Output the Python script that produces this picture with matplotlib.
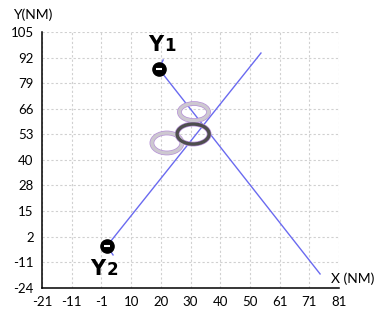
import numpy as np
import matplotlib.pyplot as plt
from matplotlib.patches import Ellipse

# tracks (NM)
track1_x = [19.2, 74.5]
track1_y = [86.3, -17.1]
track2_x = [1.3, 54.2]
track2_y = [-3.0, 94.4]

# short heading ticks at the start points
tail1_x = [19.2, 20.6]
tail1_y = [86.3, 90.9]
tail2_x = [1.3, 3.4]
tail2_y = [-3.0, -7.5]

# ship positions
ship_x = [19.2, 1.3]
ship_y = [86.3, -3.0]
ship_letter = ["Υ", "Υ"]
ship_index = ["1", "2"]
name_x = [18.2, -1.7]
name_y = [98.4, -14.6]

# range rings: x, y, w, h
ring_x = [31.2, 21.9, 30.9]
ring_y = [64.6, 49.0, 53.5]
ring_w = [10.0, 10.3, 11.0]
ring_h = [8.6, 10.1, 10.1]
ring_col = ['#cdc8d0', '#cdc8d0', '#4e4e4e']

x_ticks = np.linspace(-21, 81, 11)
x_labels = ['-21', '-11', '-1', '10', '20', '30', '40', '50', '61', '71', '81']
y_ticks = np.linspace(-24, 105, 11)
y_labels = ['-24', '-11', '2', '15', '28', '40', '53', '66', '79', '92', '105']

plt.rcParams['font.family'] = ['Lato', 'DejaVu Sans']

fig = plt.figure(figsize=(3.75, 3.14), dpi=100)
ax = fig.add_axes([0.112, 0.084, 0.792, 0.814])

line_col = '#6a6af0'
ax.plot(track1_x, track1_y, color=line_col, lw=1.0, zorder=2)
ax.plot(track2_x, track2_y, color=line_col, lw=1.0, zorder=2)
ax.plot(tail1_x, tail1_y, color=line_col, lw=1.0, zorder=2)
ax.plot(tail2_x, tail2_y, color=line_col, lw=1.0, zorder=2)

for i in range(len(ring_x)):
    # purple halo under the grey ring
    ax.add_patch(Ellipse((ring_x[i], ring_y[i]), ring_w[i], ring_h[i],
                         fill=False, edgecolor='#b690d8', lw=3.4, zorder=3))
    ax.add_patch(Ellipse((ring_x[i], ring_y[i]), ring_w[i], ring_h[i],
                         fill=False, edgecolor=ring_col[i], lw=2.4, zorder=4))

ax.plot(ship_x, ship_y, 'o', color='black', ms=9.5, zorder=5)
ax.plot(ship_x, ship_y, '_', color='white', ms=5, mew=1.5, zorder=6)

for i in range(len(ship_letter)):
    t = ax.text(name_x[i], name_y[i], ship_letter[i], fontsize=15, fontweight='bold',
                family=['DejaVu Sans'], ha='center', va='center', color='black')
    ax.annotate(ship_index[i], xy=(1, 0), xycoords=t, xytext=(0.5, 0),
                textcoords='offset points', fontsize=12, fontweight='bold',
                family=['DejaVu Sans'], ha='left', va='bottom', color='black')

ax.set_xlim(-21, 81)
ax.set_ylim(-24, 105)
ax.set_xticks(x_ticks)
ax.set_xticklabels(x_labels)
ax.set_yticks(y_ticks)
ax.set_yticklabels(y_labels)
ax.tick_params(length=0, labelsize=9.5, pad=6)
ax.grid(True, color='#d0d0d0', linestyle=(0, (2, 2)), lw=0.8)
ax.spines['top'].set_visible(False)
ax.spines['right'].set_visible(False)
ax.spines['left'].set_linewidth(1.1)
ax.spines['bottom'].set_linewidth(1.1)

fig.text(0.035, 0.952, 'Y(NM)', fontsize=10, va='center', ha='left')
fig.text(0.883, 0.111, 'X (NM)', fontsize=10, va='center', ha='left')

fig.savefig('out.png', dpi=100)
